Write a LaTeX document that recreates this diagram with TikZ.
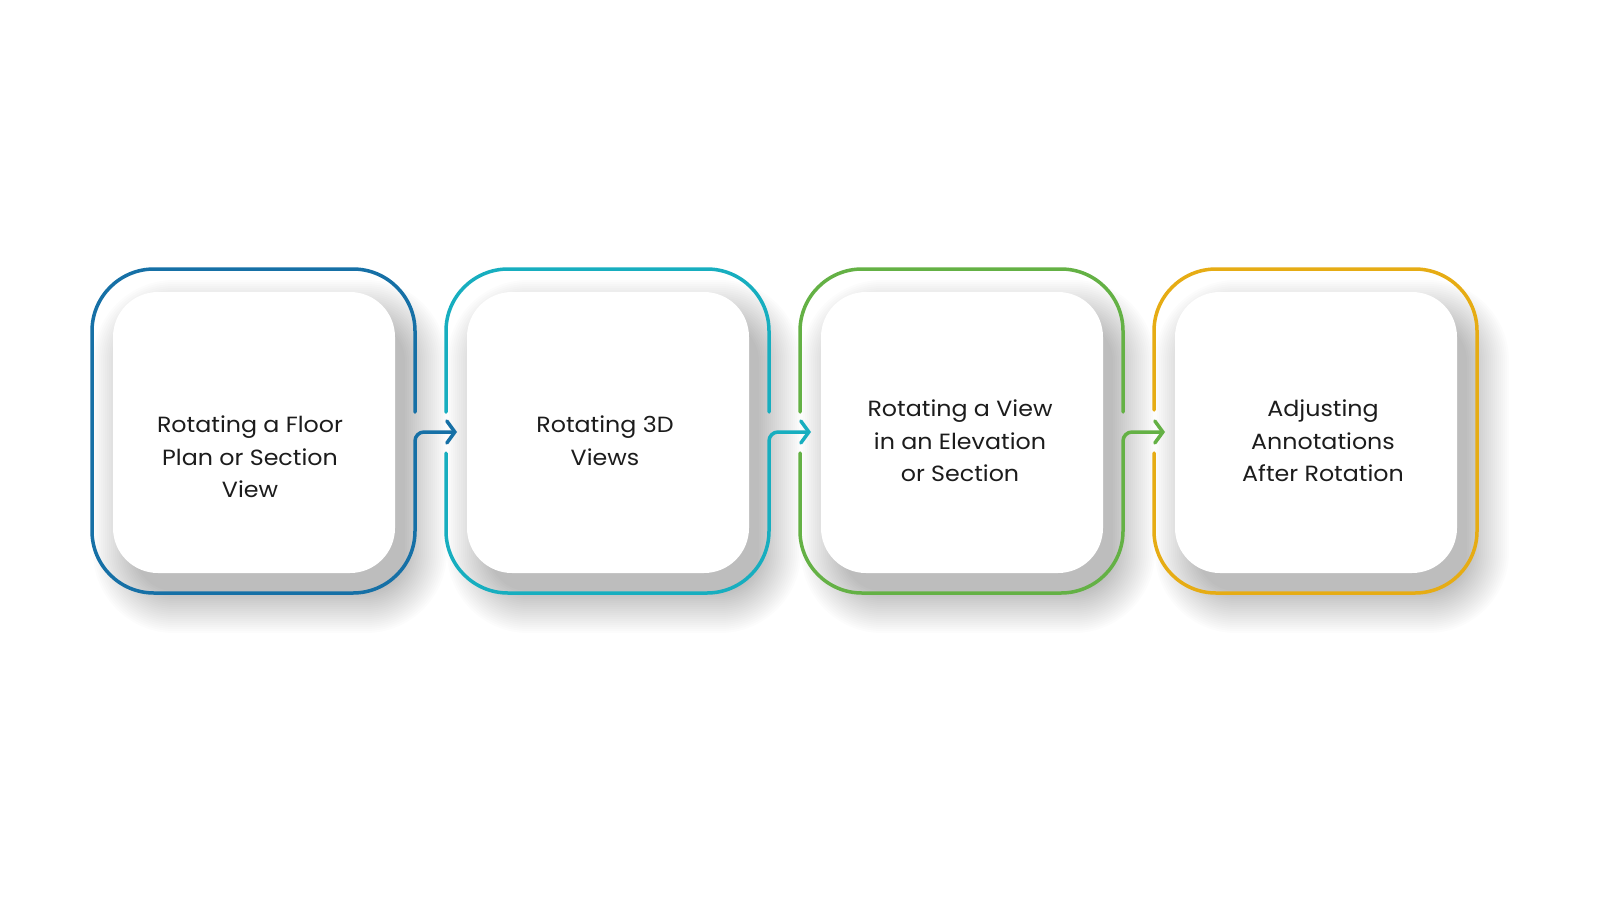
\documentclass[tikz,border=0pt]{standalone}
\usepackage{fontspec}
\setmainfont[FakeStretch=1.08]{Poppins}
\usetikzlibrary{arrows.meta}
\definecolor{cblue}{HTML}{1670A6}
\definecolor{cteal}{HTML}{17AEBF}
\definecolor{cgreen}{HTML}{64B145}
\definecolor{cgold}{HTML}{E6AC14}
\definecolor{ctext}{HTML}{1C1C1C}
\begin{document}
\begin{tikzpicture}[x=1pt,y=-1pt,
  card/.style={fill=white, draw=none, rounded corners=45pt, minimum width=282pt, minimum height=281pt, inner sep=0pt},
  shadowlayer/.style={fill=black, opacity=0.0105},
  outl/.style={line width=3.5pt, line cap=round, line join=round},
  arr/.style={-{Straight Barb[length=8pt,width=22pt,line cap=round]}},
  lbl/.style={align=center, text=ctext, font=\fontsize{22}{32.6}\selectfont}
]
\useasboundingbox (0,0) rectangle (1600,900);
\fill[white] (0,0) rectangle (1600,900);

% soft shadows
\foreach \cx in {254,608,962,1316}{
  \foreach \e [evaluate=\e as \rr using 45+\e] in {-6,-4,...,36}{
    \fill[shadowlayer, rounded corners=\rr pt]
      ({\cx+16-141-\e},{456.5-140.5-\e}) rectangle ({\cx+16+141+\e},{456.5+140.5+\e});
  }
}

% inner cards
\node[card] (b1) at (254,432.5) {};
\node[card] (b2) at (608,432.5) {};
\node[card] (b3) at (962,432.5) {};
\node[card] (b4) at (1316,432.5) {};

% box 1 outline + connector
\draw[outl, cblue, arr] (415,412) -- (415,331) arc[start angle=0, end angle=-90, radius=62]
  -- (154,269) arc[start angle=-90, end angle=-180, radius=62]
  -- (92,531) arc[start angle=180, end angle=90, radius=62]
  -- (353,593) arc[start angle=90, end angle=0, radius=62]
  -- (415,441) arc[start angle=180, end angle=270, radius=9] -- (457,432);
% box 2
\draw[outl, cteal, arr] (446,453) -- (446,531) arc[start angle=180, end angle=90, radius=62]
  -- (707,593) arc[start angle=90, end angle=0, radius=62]
  -- (769,441) arc[start angle=180, end angle=270, radius=9] -- (811,432);
\draw[outl, cteal] (769,412) -- (769,331) arc[start angle=0, end angle=-90, radius=62]
  -- (508,269) arc[start angle=-90, end angle=-180, radius=62] -- (446,412);
% box 3
\draw[outl, cgreen, arr] (800,453) -- (800,531) arc[start angle=180, end angle=90, radius=62]
  -- (1061,593) arc[start angle=90, end angle=0, radius=62]
  -- (1123,441) arc[start angle=180, end angle=270, radius=9] -- (1165,432);
\draw[outl, cgreen] (1123,412) -- (1123,331) arc[start angle=0, end angle=-90, radius=62]
  -- (862,269) arc[start angle=-90, end angle=-180, radius=62] -- (800,412);
% box 4
\draw[outl, cgold] (1154,453) -- (1154,531) arc[start angle=180, end angle=90, radius=62]
  -- (1415,593) arc[start angle=90, end angle=0, radius=62]
  -- (1477,331) arc[start angle=0, end angle=-90, radius=62]
  -- (1216,269) arc[start angle=-90, end angle=-180, radius=62] -- (1154,410);

% labels
\node[lbl] (t1) at (250,457) {Rotating a Floor\\Plan or Section\\View};
\node[lbl] (t2) at (605,441) {Rotating 3D\\Views};
\node[lbl] (t3) at (960,441) {Rotating a View\\in an Elevation\\or Section};
\node[lbl] (t4) at (1323,441) {Adjusting\\Annotations\\After Rotation};
\end{tikzpicture}
\end{document}
